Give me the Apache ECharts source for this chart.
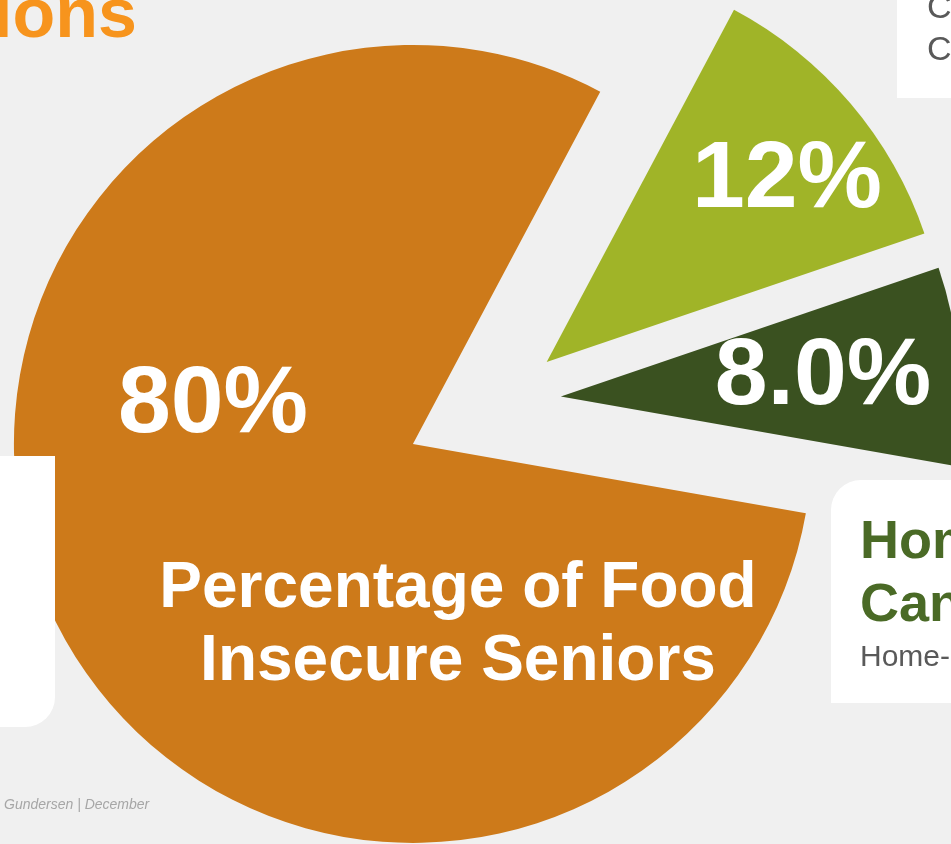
<!DOCTYPE html>
<html>
<head>
<meta charset="utf-8">
<script src="https://cdn.jsdelivr.net/npm/echarts@6/dist/echarts.min.js"></script>
<style>
  html, body { margin: 0; padding: 0; background: #f0f0f0; }
  #chart { width: 951px; height: 844px; }
</style>
</head>
<body>
<div id="chart"></div>
<script>
// Share of food insecure seniors by group
const categories = ['Group B', 'Group C', 'Food Insecure Seniors'];
const shares = [12, 8, 80];
const shareLabels = ['12%', '8.0%', '80%'];
const sliceColors = ['#a0b428', '#3a5120', '#cd7a1a'];

const FONT = '"Liberation Sans", Arial, Helvetica, sans-serif';

// One pie layout shared by two series: the small slices pulled out a little,
// the large slice pulled out further in the opposite direction.
function sliceSeries(visibleIdx, offset) {
  return {
    type: 'pie',
    center: [501, 401],
    radius: [0, 399],
    startAngle: 62,
    clockwise: true,
    selectedMode: 'multiple',
    selectedOffset: offset,
    silent: true,
    animation: false,
    label: { show: false },
    labelLine: { show: false },
    emphasis: { disabled: true },
    data: shares.map((v, i) => ({
      name: categories[i],
      value: v,
      selected: visibleIdx.includes(i),
      itemStyle: {
        color: sliceColors[i],
        opacity: visibleIdx.includes(i) ? 1 : 0,
        borderWidth: 0
      }
    }))
  };
}

function txt(text, x, y, size, opts) {
  return {
    type: 'text',
    x: x, y: y, z: 50,
    style: Object.assign({
      text: text,
      font: 'bold ' + size + 'px ' + FONT,
      fill: '#ffffff',
      textAlign: 'center',
      textVerticalAlign: 'middle'
    }, opts || {})
  };
}

const chart = echarts.init(document.getElementById('chart'), null, { renderer: 'canvas' });
chart.setOption({
  backgroundColor: '#f0f0f0',
  animation: false,
  series: [sliceSeries([0, 1], 60), sliceSeries([2], 98)],
  graphic: [
    // heading fragment
    txt('ions', 137, 18, 70, { fill: '#f7941d', textAlign: 'right' }),
    // side panels
    { type: 'rect', z: 40, shape: { x: 897, y: -20, width: 120, height: 118 }, style: { fill: '#ffffff' } },
    txt('C', 927, 9, 34, { fill: '#595959', textAlign: 'left', font: '34px ' + FONT }),
    txt('C', 927, 51, 34, { fill: '#595959', textAlign: 'left', font: '34px ' + FONT }),
    { type: 'rect', z: 40, shape: { x: -40, y: 456, width: 95, height: 271, r: [0, 0, 30, 0] }, style: { fill: '#ffffff' } },
    { type: 'rect', z: 40, shape: { x: 831, y: 480, width: 200, height: 223, r: [30, 0, 0, 0] }, style: { fill: '#ffffff' } },
    txt('Home', 860, 543, 54, { fill: '#4a6a26', textAlign: 'left' }),
    txt('Can', 860, 606, 54, { fill: '#4a6a26', textAlign: 'left' }),
    txt('Home-', 860, 657.5, 30, { fill: '#595959', textAlign: 'left', font: '30px ' + FONT }),
    // slice values
    txt(shareLabels[0], 787, 181, 95),
    txt(shareLabels[1], 823, 377.5, 95),
    txt(shareLabels[2], 213, 406, 95),
    txt('Percentage of Food', 458, 589, 64),
    txt('Insecure Seniors', 458, 662, 64),
    // footer
    txt('Gundersen | December', 4, 805, 14, { fill: '#a6a6a6', textAlign: 'left', font: 'italic 14px ' + FONT })
  ]
});
</script>
</body>
</html>
